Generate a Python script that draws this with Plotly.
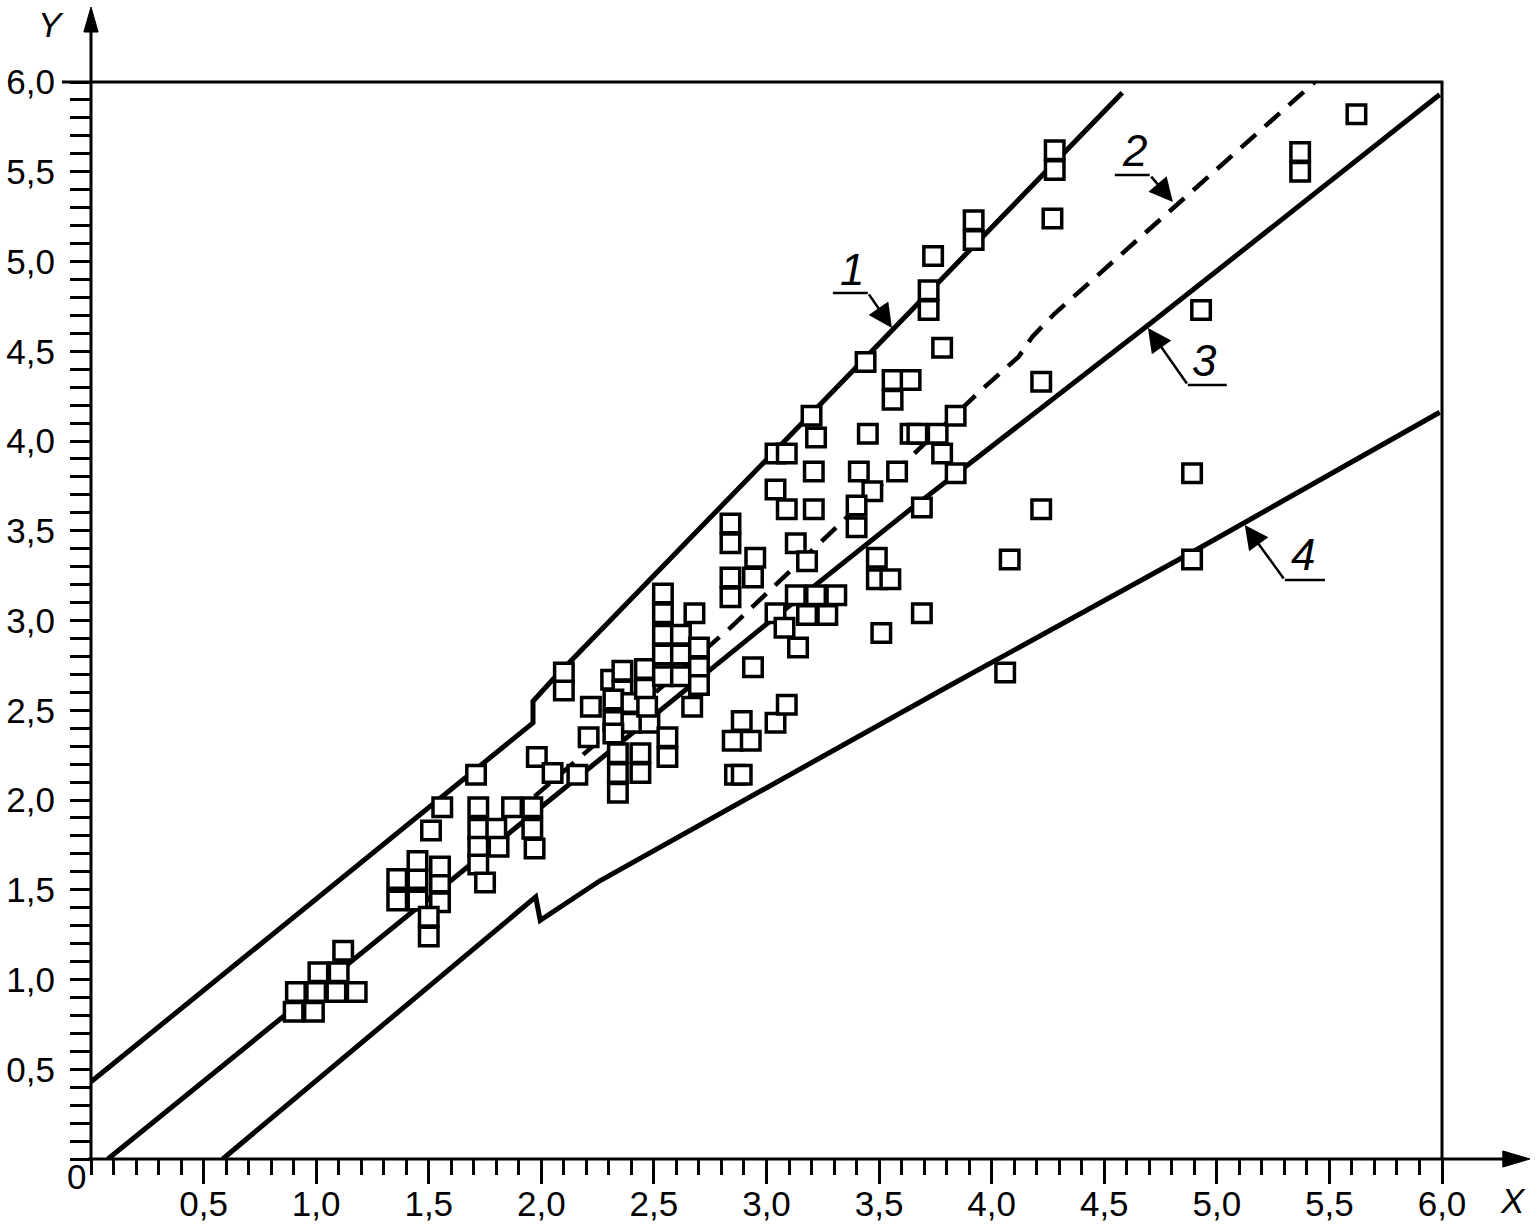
import plotly.graph_objects as go

# ---------------- data ----------------
# measured points (open squares)
pts_x = [0.90, 0.99, 0.91, 1.00, 1.09, 1.18, 1.01, 1.10, 1.12,
         1.36, 1.45, 1.55, 1.36, 1.45, 1.55, 1.45, 1.55, 1.50, 1.50, 1.51, 1.56,
         1.71, 1.72, 1.72, 1.72, 1.72, 1.75, 1.80, 1.81, 1.87, 1.96, 1.96, 1.97,
         1.98, 2.05, 2.16, 2.21, 2.22, 2.10, 2.10, 2.31, 2.36, 2.36, 2.32, 2.40, 2.32, 2.40, 2.48, 2.32,
         2.34, 2.44, 2.34, 2.44, 2.34, 2.46, 2.46, 2.47, 2.56, 2.56,
         2.54, 2.54, 2.54, 2.54, 2.54, 2.62, 2.62, 2.62, 2.68, 2.70, 2.70, 2.70, 2.67,
         2.84, 2.84, 2.84, 2.84, 2.95, 2.94, 2.94, 2.85, 2.93, 2.89, 2.86, 2.89, 3.04, 3.09,
         3.04, 3.08, 3.14, 3.13, 3.18, 3.22, 3.27, 3.31, 3.13, 3.18, 3.04, 3.09, 3.21, 3.04, 3.09,
         3.21, 3.22, 3.20,
         3.45, 3.41, 3.47, 3.40, 3.40, 3.58, 3.64, 3.67, 3.76, 3.84, 3.78, 3.84, 3.69, 3.49, 3.49,
         3.55, 3.51, 3.69, 3.44, 3.56, 3.64, 3.56, 3.78, 3.72, 3.72, 3.74, 3.92, 3.92,
         4.28, 4.28, 4.27, 4.22, 4.22, 4.08, 4.06, 4.89, 4.89, 4.93, 5.37, 5.37, 5.62]
pts_y = [0.82, 0.82, 0.93, 0.93, 0.93, 0.93, 1.04, 1.04, 1.16,
         1.56, 1.56, 1.54, 1.44, 1.44, 1.43, 1.66, 1.63, 1.35, 1.24, 1.83, 1.96,
         2.14, 1.96, 1.84, 1.74, 1.64, 1.54, 1.84, 1.74, 1.96, 1.96, 1.84, 1.73,
         2.24, 2.15, 2.14, 2.35, 2.52, 2.71, 2.61, 2.67, 2.72, 2.61, 2.56, 2.54, 2.44, 2.43, 2.43, 2.37,
         2.26, 2.26, 2.15, 2.15, 2.04, 2.73, 2.62, 2.52, 2.35, 2.24,
         3.15, 3.04, 2.92, 2.81, 2.69, 2.92, 2.81, 2.69, 3.04, 2.85, 2.74, 2.64, 2.52,
         3.54, 3.43, 3.24, 3.13, 3.35, 3.24, 2.74, 2.33, 2.33, 2.44, 2.14, 2.14, 2.43, 2.53,
         3.04, 2.96, 2.85, 3.14, 3.03, 3.14, 3.03, 3.14, 3.43, 3.33, 3.73, 3.62, 3.62, 3.93, 3.93,
         3.83, 4.02, 4.14,
         4.04, 3.83, 3.72, 3.64, 3.52, 3.83, 4.04, 4.04, 4.04, 4.14, 3.93, 3.82, 3.63, 3.35, 3.23,
         3.23, 2.93, 3.04, 4.44, 4.34, 4.34, 4.23, 4.52, 4.84, 4.73, 5.03, 5.23, 5.12,
         5.62, 5.51, 5.24, 4.33, 3.62, 3.34, 2.71, 3.82, 3.34, 4.73, 5.61, 5.50, 5.82]

# curve 1 (upper solid)
line1_x = [0.0, 1.963, 1.963, 2.05, 3.22, 4.33, 4.58]
line1_y = [0.43, 2.43, 2.55, 2.67, 4.18, 5.61, 5.94]
# curve 2 (dashed)
line2_x = [1.97, 2.84, 3.95, 4.12, 4.18, 4.28, 5.435]
line2_y = [2.02, 2.96, 4.28, 4.47, 4.58, 4.71, 6.00]
# curve 3 (middle solid)
line3_x = [0.075, 0.83, 1.42, 2.00, 2.60, 3.00, 3.65, 4.70, 5.99]
line3_y = [0.00, 0.77, 1.37, 1.96, 2.57, 2.98, 3.63, 4.65, 5.93]
# curve 4 (lower solid)
line4_x = [0.585, 1.975, 1.995, 2.26, 3.81, 4.89, 5.99]
line4_y = [0.00, 1.46, 1.33, 1.55, 2.635, 3.38, 4.16]

tick_vals = [0.5, 1.0, 1.5, 2.0, 2.5, 3.0, 3.5, 4.0, 4.5, 5.0, 5.5, 6.0]
tick_text = ["0,5", "1,0", "1,5", "2,0", "2,5", "3,0", "3,5", "4,0", "4,5", "5,0", "5,5", "6,0"]

curve_labels = ["1", "2", "3", "4"]

# ---------------- figure ----------------
FONT = "Liberation Sans, Arial, Helvetica, sans-serif"
fig = go.Figure()

fig.add_trace(go.Scatter(x=line1_x, y=line1_y, mode="lines",
                         line=dict(color="black", width=5), hoverinfo="skip"))
fig.add_trace(go.Scatter(x=line2_x, y=line2_y, mode="lines",
                         line=dict(color="black", width=4.5, dash="20px,12px"), hoverinfo="skip"))
fig.add_trace(go.Scatter(x=line3_x, y=line3_y, mode="lines",
                         line=dict(color="black", width=5), hoverinfo="skip"))
fig.add_trace(go.Scatter(x=line4_x, y=line4_y, mode="lines",
                         line=dict(color="black", width=5), hoverinfo="skip"))
fig.add_trace(go.Scatter(x=pts_x, y=pts_y, mode="markers",
                         marker=dict(symbol="square", size=18.5, color="white",
                                     line=dict(color="black", width=3.5)),
                         cliponaxis=False))

axis_common = dict(range=[0, 6], showgrid=False, zeroline=False, showline=False,
                   automargin=False,
                   tickvals=tick_vals, ticktext=tick_text, ticks="outside",
                   tickwidth=3, tickcolor="black",
                   tickfont=dict(family=FONT, size=35, color="black"))
fig.update_xaxes(**axis_common, ticklen=24, ticklabelstandoff=-10,
                 minor=dict(dtick=0.1, tick0=0, ticks="outside", ticklen=15,
                            tickwidth=3, tickcolor="black", showgrid=False))
fig.update_yaxes(**axis_common, ticklen=20, ticklabelstandoff=8,
                 minor=dict(dtick=0.1, tick0=0, ticks="outside", ticklen=20,
                            tickwidth=3, tickcolor="black", showgrid=False))

shapes = []
LW = 3
# axes and frame (paper coordinates)
shapes.append(dict(type="line", xref="paper", yref="paper", x0=-0.002, x1=1.05, y0=0, y1=0,
                   line=dict(color="black", width=LW)))
shapes.append(dict(type="path", xref="paper", yref="paper",
                   path="M 1.0651 0 L 1.045 0.0075 L 1.045 -0.0075 Z",
                   fillcolor="black", line=dict(color="black", width=1)))
shapes.append(dict(type="line", xref="paper", yref="paper", x0=0, x1=0, y0=-0.002, y1=1.05,
                   line=dict(color="black", width=LW)))
shapes.append(dict(type="path", xref="paper", yref="paper",
                   path="M 0 1.0696 L -0.0053 1.0464 L 0.0053 1.0464 Z",
                   fillcolor="black", line=dict(color="black", width=1)))
shapes.append(dict(type="line", xref="paper", yref="paper", x0=-0.0215, x1=1.001, y0=1, y1=1,
                   line=dict(color="black", width=LW)))
shapes.append(dict(type="line", xref="paper", yref="paper", x0=1, x1=1, y0=0, y1=1,
                   line=dict(color="black", width=LW)))

# leader lines of curve labels
leaders = [(3.295, 3.450, 4.825), (4.547, 4.702, 5.482),
           (4.871, 5.044, 4.312), (5.302, 5.480, 3.226)]
for x0, x1, yy in leaders:
    shapes.append(dict(type="line", xref="x", yref="y", x0=x0, x1=x1, y0=yy, y1=yy,
                       line=dict(color="black", width=2.5)))
fig.update_layout(shapes=shapes)

annotations = []
# curve number texts
label_pos = [(3.379, 4.953), (4.636, 5.621), (4.947, 4.451), (5.382, 3.365)]
for txt, (lx, ly) in zip(curve_labels, label_pos):
    annotations.append(dict(x=lx, y=ly, xref="x", yref="y", text="<i>%s</i>" % txt,
                            showarrow=False, font=dict(family=FONT, size=44, color="black"),
                            xanchor="center", yanchor="middle"))
# arrows pointing to curves
arrows = [(3.557, 4.630, -24, -35), (4.805, 5.331, -23, -27),
          (4.694, 4.630, 40, 57), (5.124, 3.532, 40, 55)]
for tx, ty, axo, ayo in arrows:
    annotations.append(dict(x=tx, y=ty, xref="x", yref="y", ax=axo, ay=ayo, text="",
                            showarrow=True, arrowhead=2, arrowsize=1.9, arrowwidth=2.5,
                            arrowcolor="black", standoff=0))
# axis names and origin
annotations.append(dict(x=-0.0296, y=1.0538, xref="paper", yref="paper", text="<i>Y</i>",
                        showarrow=False, font=dict(family=FONT, size=35, color="black"),
                        xanchor="center", yanchor="middle"))
annotations.append(dict(x=1.0525, y=-0.0381, xref="paper", yref="paper", text="<i>X</i>",
                        showarrow=False, font=dict(family=FONT, size=35, color="black"),
                        xanchor="center", yanchor="middle"))
annotations.append(dict(x=-0.0111, y=-0.0167, xref="paper", yref="paper", text="0",
                        showarrow=False, font=dict(family=FONT, size=35, color="black"),
                        xanchor="center", yanchor="middle"))

fig.update_layout(
    width=1535, height=1224,
    margin=dict(l=91, r=93, t=82, b=65, pad=0),
    plot_bgcolor="white", paper_bgcolor="white",
    showlegend=False,
    font=dict(family=FONT, color="black"),
    annotations=annotations,
)

fig.write_html("out.html")
